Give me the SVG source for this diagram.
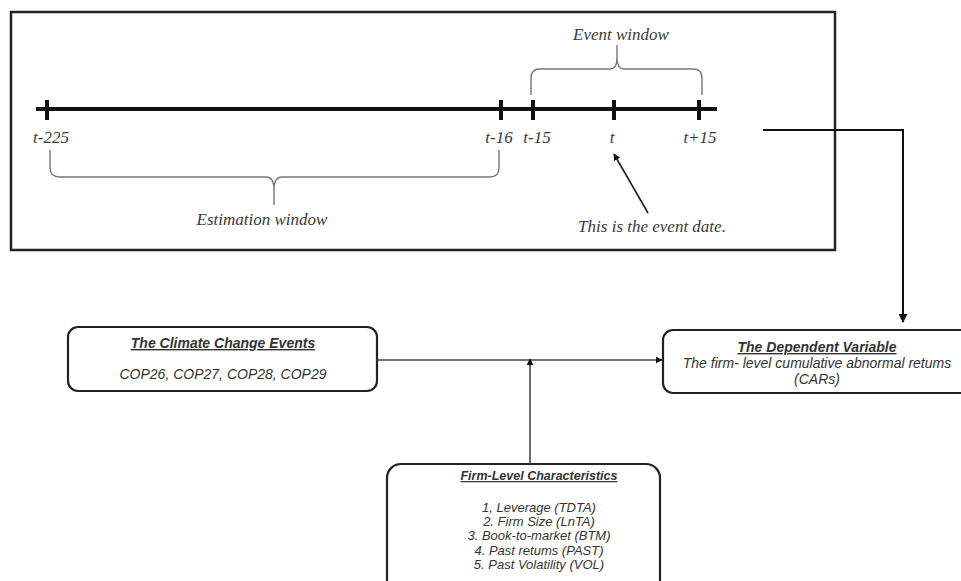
<svg xmlns="http://www.w3.org/2000/svg" width="961" height="581" viewBox="0 0 961 581">
<style>
.serif{font-family:"Liberation Serif","Times New Roman",serif;font-style:italic;fill:#3a3a3a}
.sans{font-family:"Liberation Sans",Arial,sans-serif;font-style:italic;fill:#333}
.title{font-weight:bold;text-decoration:underline}
.box{fill:#fff;stroke:#222;stroke-width:2.2}
.tick{stroke:#111;stroke-width:4}
.brace{fill:none;stroke:#777;stroke-width:1.4}
.conn{fill:none;stroke:#444;stroke-width:1.6}
</style>
<defs>
<marker id="ah" viewBox="0 0 10 10" refX="9" refY="5" markerWidth="7" markerHeight="7" markerUnits="userSpaceOnUse" orient="auto">
<path d="M0,0 L10,5 L0,10 z" fill="#111"/>
</marker>
<marker id="ahb" viewBox="0 0 10 10" refX="9" refY="5" markerWidth="9" markerHeight="9" markerUnits="userSpaceOnUse" orient="auto">
<path d="M0,0 L10,5 L0,10 z" fill="#111"/>
</marker>
</defs>
<rect width="961" height="581" fill="#fff"/>

<g id="timeline-panel">
<rect x="11" y="12" width="824" height="238" fill="none" stroke="#222" stroke-width="2.5"/>
<line x1="36" y1="109" x2="717" y2="109" stroke="#111" stroke-width="4"/>
<line class="tick" x1="47" y1="100" x2="47" y2="120"/>
<line class="tick" x1="501" y1="100" x2="501" y2="120"/>
<line class="tick" x1="533" y1="100" x2="533" y2="120"/>
<line class="tick" x1="614" y1="100" x2="614" y2="120"/>
<line class="tick" x1="699" y1="100" x2="699" y2="120"/>
<g class="serif" font-size="17" text-anchor="middle">
<text x="51" y="143">t-225</text>
<text x="499" y="143">t-16</text>
<text x="537" y="143">t-15</text>
<text x="612" y="143">t</text>
<text x="700" y="143">t+15</text>
<text x="262" y="225">Estimation window</text>
<text x="621" y="40">Event window</text>
<text x="652" y="232">This is the event date.</text>
</g>
<path class="brace" d="M50,150 L50,168 Q50,177 60,177 L266,177 Q274,177 274,190 L274,205 L274,190 Q274,177 282,177 L490,177 Q499,177 499,168 L499,150"/>
<path class="brace" d="M531,95 L531,78 Q531,69 540,69 L610,69 Q617,69 617,58 L617,45 L617,58 Q617,69 624,69 L693,69 Q702,69 702,78 L702,95"/>
<line x1="648" y1="213" x2="614" y2="154" stroke="#222" stroke-width="1.6" marker-end="url(#ah)"/>
</g>

<g id="climate-events">
<rect class="box" x="68" y="327" width="309" height="64" rx="10"/>
<text class="sans title" x="223" y="348" font-size="14" text-anchor="middle">The Climate Change Events</text>
<text class="sans" x="223" y="379" font-size="14" text-anchor="middle" fill="#444">COP26, COP27, COP28, COP29</text>
</g>

<g id="dependent-variable">
<rect class="box" x="663" y="330" width="310" height="63" rx="10"/>
<text class="sans title" x="817" y="352" font-size="14" text-anchor="middle">The Dependent Variable</text>
<text class="sans" x="817" y="368" font-size="14" text-anchor="middle">The firm- level cumulative abnormal retums</text>
<text class="sans" x="817" y="384" font-size="14" text-anchor="middle">(CARs)</text>
</g>

<g id="firm-characteristics">
<rect class="box" x="387" y="464" width="273" height="140" rx="14"/>
<text class="sans title" x="539" y="480" font-size="12.5" text-anchor="middle">Firm-Level Characteristics</text>
<g class="sans" font-size="13" text-anchor="middle">
<text x="539" y="512">1, Leverage (TDTA)</text>
<text x="539" y="526">2. Firm Size (LnTA)</text>
<text x="539" y="540">3. Book-to-market (BTM)</text>
<text x="539" y="555">4. Past retums (PAST)</text>
<text x="539" y="569">5. Past Volatility (VOL)</text>
</g>
</g>

<g id="connectors">
<path d="M763,130 H903 V322" fill="none" stroke="#111" stroke-width="2" marker-end="url(#ahb)"/>
<path class="conn" d="M377,360 H662" marker-end="url(#ah)"/>
<path class="conn" d="M530,464 V359" marker-end="url(#ah)"/>
</g>
</svg>
